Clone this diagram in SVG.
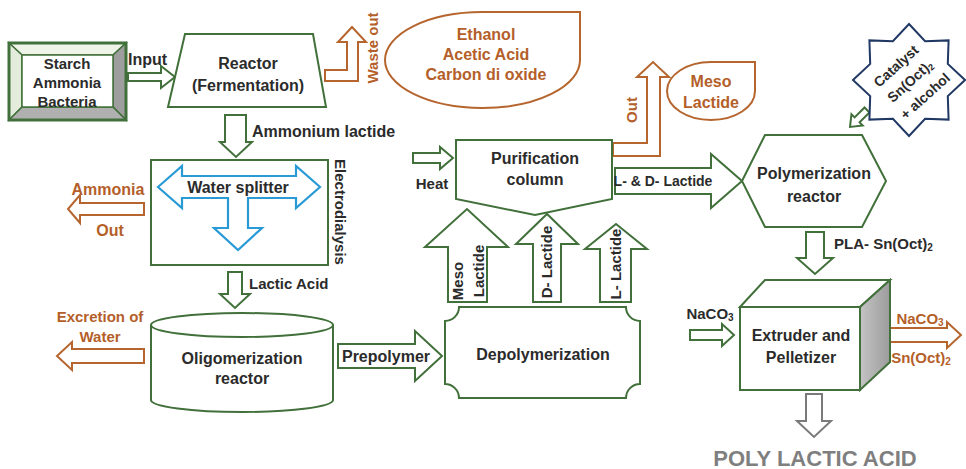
<svg xmlns="http://www.w3.org/2000/svg" width="966" height="469" viewBox="0 0 966 469">
<defs>
<style>
.g{fill:#fff;stroke:#41703a;stroke-width:2;stroke-linejoin:miter}
.o{fill:#fff;stroke:#b5652d;stroke-width:2}
.b{fill:#fff;stroke:#2a9ad6;stroke-width:2.2}
.gr{fill:#fff;stroke:#7a7a7a;stroke-width:2}
.t{font-family:"Liberation Sans",Arial,sans-serif;font-weight:bold;font-size:16px;fill:#2b2b2b;text-anchor:middle;dominant-baseline:central}
.s15{font-size:15px}
.s14{font-size:14px}
.ot{fill:#b45f2a}
.st{text-anchor:start}
</style>
<linearGradient id="side" x1="0" y1="0" x2="1" y2="0">
<stop offset="0" stop-color="#c4c4c4"/><stop offset="1" stop-color="#9c9c9c"/>
</linearGradient>
</defs>
<rect width="966" height="469" fill="#fff"/>

<g id="connectors">
<polygon class="g" points="128,73 161,73 161,66 175,77 161,88 161,81 128,81"/>
<text class="t st" x="128" y="59">Input</text>
<path class="o" d="M325,70 H347 V42 H338 L352,27 L366,42 H358 V81 H325 Z"/>
<text class="t s15 ot" transform="translate(372,48) rotate(-90)">Waste out</text>
<polygon class="g" points="225,115 246,115 246,142 252,142 236,157 220,142 225,142"/>
<text class="t st" x="252" y="131">Ammonium lactide</text>
<polygon class="o" points="144,203 80,203 80,195 68,209 80,223 80,215 144,215"/>
<text class="t ot" x="108" y="189">Ammonia</text>
<text class="t ot" x="110" y="230">Out</text>
<polygon class="g" points="228,272 242,272 242,294 250,294 235,308 220,294 228,294"/>
<text class="t s15 st" x="249" y="283">Lactic Acid</text>
<polygon class="o" points="144,349 72,349 72,342 57,356 72,370 72,363 144,363"/>
<text class="t s15 ot" x="100" y="316">Excretion of</text>
<text class="t s15 ot" x="100" y="336">Water</text>
<polygon class="g" points="338,344 415,344 415,331 442,356 415,381 415,368 338,368"/>
<text class="t" x="386" y="356">Prepolymer</text>
<polygon class="g" points="413,153 440,153 440,147 453,158 440,169 440,163 413,163"/>
<text class="t s15" x="432" y="183">Heat</text>
<polygon class="g" points="448,302 448,247 425,247 467,209 508,247 487,247 487,302"/>
<text class="t s15" transform="translate(457,281) rotate(-90)">Meso</text>
<text class="t s15" transform="translate(478,271) rotate(-90)">Lactide</text>
<polygon class="g" points="533,302 533,244 516,244 547,214 578,244 561,244 561,302"/>
<text class="t s15" transform="translate(546,262) rotate(-90)">D- Lactide</text>
<polygon class="g" points="600,302 600,249 585,249 616,224 647,249 631,249 631,302"/>
<text class="t s15" transform="translate(615,264) rotate(-90)">L- Lactide</text>
<polygon class="g" points="615,168 711,168 711,154 742,181 711,208 711,194 615,194"/>
<text class="t s14" x="663" y="181">L- &amp; D- Lactide</text>
<path class="o" d="M613,143 H647 V77 H637 L653,62 L669,77 H660 V156 H613 Z"/>
<text class="t s15 ot" transform="translate(631,110) rotate(-90)">Out</text>
<polygon class="g" transform="translate(867,110) rotate(135)" points="0,-3.5 14,-3.5 14,-8 24,0 14,8 14,3.5 0,3.5"/>
<polygon class="g" points="806,232 824,232 824,258 833,258 815,274 797,258 806,258"/>
<text class="t s15 st" x="834" y="243">PLA- Sn(Oct)<tspan font-size="10" dy="4">2</tspan></text>
<polygon class="g" points="690,330 722,330 722,324 734,335 722,346 722,340 690,340"/>
<text class="t s15" x="710" y="313">NaCO<tspan font-size="10" dy="4">3</tspan></text>
<polygon class="o" points="877,328 947,328 947,322 961,335 947,348 947,342 877,342"/>
<text class="t s15 ot" x="920" y="318">NaCO<tspan font-size="10" dy="4">3</tspan></text>
<text class="t s15 ot" x="921" y="357">Sn(Oct)<tspan font-size="10" dy="4">2</tspan></text>
<polygon class="gr" points="806,394 822,394 822,421 831,421 814,437 797,421 806,421"/>
</g>

<g id="starch">
<rect x="9" y="43" width="117" height="77" fill="#fff"/>
<polygon points="9,43 126,43 113,55 22,55" fill="#eef4e8" stroke="#41703a" stroke-width="1.5"/>
<polygon points="9,43 22,55 22,107 9,120" fill="#e4eddc" stroke="#41703a" stroke-width="1.5"/>
<polygon points="126,43 126,120 113,107 113,55" fill="#9e9e9e" stroke="#41703a" stroke-width="1.5"/>
<polygon points="9,120 126,120 113,107 22,107" fill="#b0b0b0" stroke="#41703a" stroke-width="1.5"/>
<rect x="22" y="55" width="91" height="52" fill="#fff" stroke="#41703a" stroke-width="1.5"/>
<rect x="9" y="43" width="117" height="77" fill="none" stroke="#41703a" stroke-width="3"/>
<text class="t s15" x="67" y="63">Starch</text>
<text class="t s15" x="67" y="82">Ammonia</text>
<text class="t s15" x="67" y="101">Bacteria</text>
</g>

<g id="reactor">
<polygon class="g" points="185,34 313,34 326,107 168,107"/>
<text class="t" x="248" y="63">Reactor</text>
<text class="t" x="248" y="85">(Fermentation)</text>
</g>

<g id="ethanol">
<path class="o" d="M482.5,12 H580 V60 A97.5,48 0 1 1 482.5,12 Z"/>
<text class="t ot" x="486" y="34">Ethanol</text>
<text class="t ot" x="486" y="54">Acetic Acid</text>
<text class="t ot" x="486" y="74">Carbon di oxide</text>
</g>

<g id="electrodialysis">
<rect class="g" x="151" y="160" width="177" height="105"/>
<polygon class="b" points="158,187 182,166 182,176 296,176 296,166 320,187 296,208 296,198 248,198 248,228 262,228 238,250 214,228 228,228 228,198 182,198 182,208"/>
<text class="t" x="238" y="187">Water splitter</text>
<text class="t s15" transform="translate(340,212) rotate(90)">Electrodialysis</text>
</g>

<g id="oligomerization">
<path class="g" d="M151,325 V400 A91,12 0 0 0 333,400 V325"/>
<ellipse class="g" cx="242" cy="325" rx="91" ry="12"/>
<text class="t" x="242" y="358">Oligomerization</text>
<text class="t" x="242" y="378">reactor</text>
</g>

<g id="purification">
<polygon class="g" points="456,140 612,140 612,199 535,215 456,199"/>
<text class="t" x="535" y="158">Purification</text>
<text class="t" x="535" y="179">column</text>
</g>

<g id="meso">
<path class="o" d="M711,62 H755 V91 A44,29 0 1 1 711,62 Z"/>
<text class="t ot" x="711" y="81">Meso</text>
<text class="t ot" x="711" y="102">Lactide</text>
</g>

<g id="depolymerization">
<path class="g" d="M459,307 H626 A14,14 0 0 0 640,321 V384 A14,14 0 0 0 626,398 H459 A14,14 0 0 0 445,384 V321 A14,14 0 0 0 459,307 Z"/>
<text class="t" x="543" y="354">Depolymerization</text>
</g>

<g id="catalyst">
<polygon fill="#fff" stroke="#203864" stroke-width="2" points="909,24 925.1,41.2 948.6,40.4 947.8,63.9 965,80 947.8,96.1 948.6,119.6 925.1,118.8 909,136 892.9,118.8 869.4,119.6 870.2,96.1 853,80 870.2,63.9 869.4,40.4 892.9,41.2"/>
<text class="t s14" transform="translate(896,66) rotate(-42)">Catalyst</text>
<text class="t s14" transform="translate(910,81) rotate(-42)">Sn(Oct)<tspan font-size="9" dy="4">2</tspan></text>
<text class="t s14" transform="translate(925,96) rotate(-42)">+ alcohol</text>
</g>

<g id="polymerization">
<polygon class="g" points="742,181 765,135 862,135 886,181 862,227 765,227"/>
<text class="t" x="814" y="173">Polymerization</text>
<text class="t" x="814" y="196">reactor</text>
</g>

<g id="extruder">
<rect class="g" x="740" y="307" width="120" height="83"/>
<polygon class="g" points="740,307 765,280 890,280 860,307"/>
<polygon points="860,307 890,280 890,362 860,390" fill="url(#side)" stroke="#41703a" stroke-width="2"/>
<text class="t" x="801" y="335">Extruder and</text>
<text class="t" x="801" y="357">Pelletizer</text>
</g>

<g id="pla">
<text class="t" style="font-size:22px;fill:#7f7f7f" x="815" y="458">POLY LACTIC ACID</text>
</g>
</svg>
